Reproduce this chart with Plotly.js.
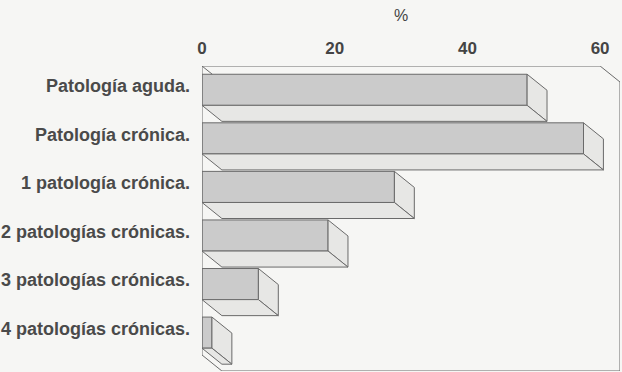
<!DOCTYPE html>
<html>
<head>
<meta charset="utf-8">
<script src="https://cdn.plot.ly/plotly-3.0.1.min.js"></script>
<style>html,body{margin:0;padding:0;background:#f6f6f4;}</style>
</head>
<body>
<div id="chart" style="width:622px;height:372px;"></div>
<script>
// ---- data ----
const categories = ['Patología aguda.', 'Patología crónica.', '1 patología crónica.', '2 patologías crónicas.', '3 patologías crónicas.', '4 patologías crónicas.'];
const values = [49, 57.5, 29, 19, 8.5, 1.5];
const xTickVals = [0, 20, 40, 60];
const xTickText = ['0', '20', '40', '60'];
const axisTitle = '%';

// ---- styling / geometry (3D look) ----
const BAR_W = 0.64;      // bar thickness in category units
const DX = 3.0;          // depth offset along value axis
const DY = 0.33;         // depth offset along category axis
const X_MAX = 60;
const Y_TOP = -0.49;
const Y_BOT = 5.79;
const EDGE = '#6a6a6a';
const FRONT = '#cbcbcb';
const SIDE = '#e7e7e5';
const FONT = 'Liberation Sans, Arial, sans-serif';

const idx = categories.map((_, i) => i);
const traces = [];

// front faces as a real bar trace
traces.push({
  type: 'bar', orientation: 'h',
  y: idx, x: values, width: BAR_W,
  marker: {color: FRONT, line: {color: EDGE, width: 1}},
  hoverinfo: 'skip', showlegend: false
});

// side and bottom faces
values.forEach((v, i) => {
  const yt = i - BAR_W / 2, yb = i + BAR_W / 2;
  traces.push({
    type: 'scatter', mode: 'lines', fill: 'toself', fillcolor: SIDE,
    x: [v, v + DX, v + DX, v, v],
    y: [yt, yt + DY, yb + DY, yb, yt],
    line: {color: EDGE, width: 1}, hoverinfo: 'skip', showlegend: false
  });
  traces.push({
    type: 'scatter', mode: 'lines', fill: 'toself', fillcolor: SIDE,
    x: [0, v, v + DX, DX, 0],
    y: [yb, yb, yb + DY, yb + DY, yb],
    line: {color: EDGE, width: 1}, hoverinfo: 'skip', showlegend: false
  });
});

// box frame
const firstTop = 0 - BAR_W / 2;
const diagFrac = (firstTop - Y_TOP) / DY;
traces.push({
  type: 'scatter', mode: 'lines',
  x: [0, X_MAX, X_MAX + DX, X_MAX + DX, DX, 0, 0, null, 0, DX * diagFrac],
  y: [Y_TOP, Y_TOP, Y_TOP + DY, Y_BOT, Y_BOT, Y_BOT - DY, Y_TOP, null, Y_TOP, firstTop],
  line: {color: EDGE, width: 1}, hoverinfo: 'skip', showlegend: false, connectgaps: false
});

const layout = {
  width: 622, height: 372,
  margin: {l: 202, r: 2, t: 66, b: 1},
  paper_bgcolor: '#f6f6f4', plot_bgcolor: '#f6f6f4',
  bargap: 0,
  font: {family: FONT, color: '#3a3a3a', size: 16},
  xaxis: {
    range: [0, X_MAX + DX], side: 'top', tickvals: xTickVals, ticktext: xTickText,
    showgrid: false, zeroline: false, showline: false, ticks: '',
    ticklabelstandoff: 8,
    tickfont: {family: FONT, size: 17, color: '#444', weight: 'bold'}, fixedrange: true
  },
  yaxis: {
    range: [Y_BOT, Y_TOP], tickvals: idx, ticktext: categories,
    showgrid: false, zeroline: false, showline: false, ticks: '',
    ticklabelstandoff: 11, ticklabelshift: 4,
    tickfont: {family: FONT, size: 18, color: '#4a4a4a', weight: 'bold'}, fixedrange: true
  },
  annotations: [{
    text: axisTitle, xref: 'x', yref: 'paper', x: X_MAX / 2, y: 1.165,
    showarrow: false, xanchor: 'center', yanchor: 'middle',
    font: {family: FONT, size: 16, color: '#444'}
  }]
};

Plotly.newPlot('chart', traces, layout, {displayModeBar: false, staticPlot: true});
</script>
</body>
</html>
